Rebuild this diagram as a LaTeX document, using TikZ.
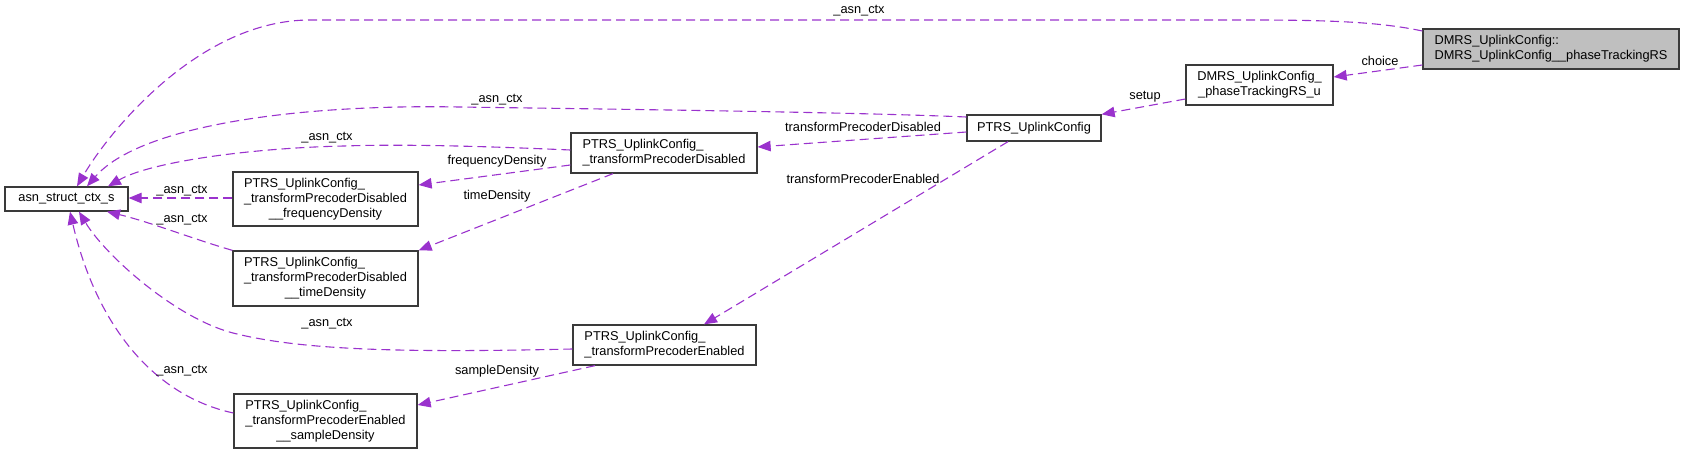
\documentclass[tikz,border=0pt]{standalone}
\usepackage{fontspec}
\setmainfont{Liberation Sans}
\usetikzlibrary{arrows.meta}
\definecolor{edgec}{HTML}{9A32CD}
\definecolor{boxgray}{HTML}{BFBFBF}
\definecolor{boxline}{HTML}{3A3A3A}
\newcommand{\lastln}[1]{\multicolumn{1}{@{}c@{}}{#1}}
\newcommand{\lns}[1]{\begin{tabular}{@{}l@{}}#1\end{tabular}}
\begin{document}
\begin{tikzpicture}[x=1pt,y=-1pt,
  box/.style={draw=boxline, line width=1.3pt, rectangle, inner sep=0pt, fill=white,
    font=\fontsize{12.8}{15}\selectfont},
  link/.style={draw=edgec, line width=1.1pt, dash pattern=on 9pt off 5pt,
    -{Triangle[length=13pt,width=10.5pt]}},
  lbl/.style={font=\fontsize{12.8}{15}\selectfont, inner sep=0pt}]
\useasboundingbox (0,0) rectangle (1684,455);

% nodes
\node[box, minimum width=123, minimum height=24] (asn) at (66.5,199) {asn\_struct\_ctx\_s};
\node[box, minimum width=185, minimum height=54] (freq) at (325.5,199)
  {\lns{PTRS\_UplinkConfig\_\\\_transformPrecoderDisabled\\\lastln{\_\_frequencyDensity}}};
\node[box, minimum width=185, minimum height=55] (time) at (325.5,278.5)
  {\lns{PTRS\_UplinkConfig\_\\\_transformPrecoderDisabled\\\lastln{\_\_timeDensity}}};
\node[box, minimum width=183, minimum height=54] (sample) at (325.5,421)
  {\lns{PTRS\_UplinkConfig\_\\\_transformPrecoderEnabled\\\lastln{\_\_sampleDensity}}};
\node[box, minimum width=186, minimum height=40] (tpd) at (664,153)
  {\lns{PTRS\_UplinkConfig\_\\\lastln{\_transformPrecoderDisabled}}};
\node[box, minimum width=183, minimum height=40] (tpe) at (664.5,345)
  {\lns{PTRS\_UplinkConfig\_\\\lastln{\_transformPrecoderEnabled}}};
\node[box, minimum width=134, minimum height=26] (ptrs) at (1034,128) {PTRS\_UplinkConfig};
\node[box, minimum width=147, minimum height=40] (ptrsu) at (1259.5,85)
  {\lns{DMRS\_UplinkConfig\_\\\lastln{\_phaseTrackingRS\_u}}};
\node[box, fill=boxgray, minimum width=256, minimum height=40] (dmrs) at (1551,49)
  {\lns{DMRS\_UplinkConfig::\\\lastln{DMRS\_UplinkConfig\_\_phaseTrackingRS}}};

% edges
\draw[link] (dmrs.west |- 0,31) .. controls (1380,22) and (1330,20) .. (1250,20)
  -- (310,20) .. controls (200,20) and (110,130) .. (77,0 |- asn.north);
\node[lbl] (l1) at (859,11) {\_asn\_ctx};

\draw[link] (ptrs.west |- 0,117) .. controls (850,112) and (600,109) .. (459,107)
  .. controls (300,104) and (140,125) .. (87,0 |- asn.north);
\node[lbl] (l2) at (497,100) {\_asn\_ctx};

\draw[link] (tpd.west |- 0,150) .. controls (480,146) and (400,144) .. (344,146)
  .. controls (250,148) and (150,162) .. (108,0 |- asn.north);
\node[lbl] (l3) at (327,138) {\_asn\_ctx};

\draw[link] (freq.west |- 0,198) -- (asn.east |- 0,198);
\node[lbl] (l4) at (182,191) {\_asn\_ctx};

\draw[link] (time.north west) .. controls (190,238) and (150,222) .. (107,0 |- asn.south);
\node[lbl] (l5) at (182,220) {\_asn\_ctx};

\draw[link] (tpe.west |- 0,349) .. controls (400,353) and (300,350) .. (233,333)
  .. controls (175,318) and (105,255) .. (79,0 |- asn.south);
\node[lbl] (l6) at (327,324) {\_asn\_ctx};

\draw[link] (sample.west |- 0,413) .. controls (150,395) and (95,320) .. (70,0 |- asn.south);
\node[lbl] (l7) at (182,371) {\_asn\_ctx};

\draw[link] (ptrs.west |- 0,132) -- (tpd.east |- 0,147);
\node[lbl] (l8) at (863,127) {transformPrecoderDisabled};

\draw[link] (1008,0 |- ptrs.south) -- (704,0 |- tpe.north);
\node[lbl] (l9) at (863,179) {transformPrecoderEnabled};

\draw[link] (tpd.west |- 0,165) -- (freq.east |- 0,185);
\node[lbl] (l10) at (497,161) {frequencyDensity};

\draw[link] (613,0 |- tpd.south) -- (time.north east);
\node[lbl] (l11) at (497,196) {timeDensity};

\draw[link] (595,0 |- tpe.south) -- (sample.east |- 0,405);
\node[lbl] (l12) at (497,371) {sampleDensity};

\draw[link] (ptrsu.west |- 0,99) -- (ptrs.north east);
\node[lbl] (l13) at (1145,97) {setup};

\draw[link] (dmrs.west |- 0,65) -- (ptrsu.east |- 0,77);
\node[lbl] (l14) at (1380,61) {choice};
\end{tikzpicture}
\end{document}
